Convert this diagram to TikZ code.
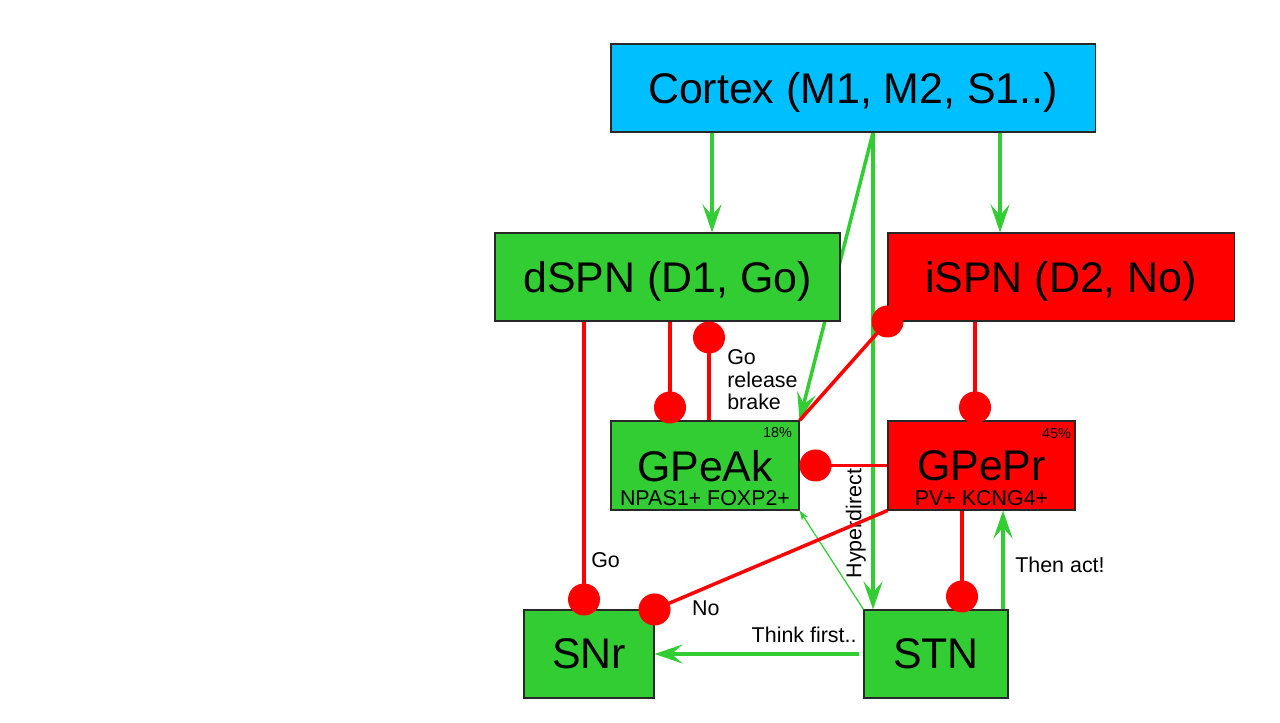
\documentclass[tikz,border=0pt]{standalone}
\usepackage{fontspec}
\setmainfont{Liberation Sans}
\usepackage{tikz}
\usetikzlibrary{arrows.meta, calc, backgrounds}
\definecolor{ctxblue}{RGB}{0,191,255}
\definecolor{gogreen}{RGB}{50,205,50}
\definecolor{nored}{RGB}{255,0,0}
\definecolor{rim}{RGB}{40,40,40}

\begin{document}
\begin{tikzpicture}[
box/.style={draw=rim, line width=0.3pt, rectangle, inner sep=0pt, text depth=0pt, font=\fontsize{12.2}{14}\selectfont},
exc/.style={gogreen, line width=1pt, -{Stealth[length=0.28cm, width=0.19cm, inset=0.11cm]}},
thinexc/.style={gogreen, line width=0.35pt, -{Stealth[length=0.1cm, width=0.07cm, inset=0.03cm]}},
inh/.style={nored, line width=1pt, -{Circle[length=0.32cm]}},
lbl/.style={text=black, font=\fontsize{6.1}{6.4}\selectfont, inner sep=1pt},
tag/.style={font=\fontsize{6.1}{7}\selectfont, inner sep=0pt},
pct/.style={font=\fontsize{4.1}{5}\selectfont, inner sep=0pt}
]
\useasboundingbox (0,0) rectangle (12.8,7.23);
\node[box, fill=ctxblue, minimum width=4.84cm, minimum height=0.88cm] (Cortex) at (8.53,6.35) {Cortex (M1, M2, S1..)};
\node[box, fill=gogreen, minimum width=3.45cm, minimum height=0.88cm] (dSPN) at (6.675,4.46) {dSPN (D1, Go)};
\node[box, fill=nored, minimum width=3.46cm, minimum height=0.88cm] (iSPN) at (10.61,4.46) {iSPN (D2, No)};
\node[box, fill=gogreen, minimum width=1.88cm, minimum height=0.89cm] (GPeAk) at (7.05,2.575) {GPeAk};
\node[box, fill=nored, minimum width=1.87cm, minimum height=0.89cm] (GPePr) at (9.815,2.575) {GPePr};
\node[box, fill=gogreen, minimum width=1.30cm, minimum height=0.88cm] (SNr) at (5.89,0.69) {SNr};
\node[box, fill=gogreen, minimum width=1.44cm, minimum height=0.88cm] (STN) at (9.36,0.69) {STN};
\node[tag, anchor=base] (GPeAkSub) at ($(GPeAk.south)+(0,0.05)$) {NPAS1+ FOXP2+};
\node[tag, anchor=base] (GPePrSub) at ($(GPePr.south)+(0,0.05)$) {PV+ KCNG4+};
\node[pct, anchor=base east] (GPeAkPct) at ($(GPeAk.north east)+(-0.07,-0.17)$) {18\%};
\node[pct, anchor=base east] (GPePrPct) at ($(GPePr.north east)+(-0.04,-0.18)$) {45\%};

\begin{scope}[on background layer]
\draw[exc] ([xshift=0.2cm]Cortex.south) -- (GPeAk.north east);
\end{scope}
\draw[exc] ([xshift=0.445cm]dSPN.north |- Cortex.south) -- ([xshift=0.445cm]dSPN.north);
\draw[exc] ([xshift=-0.61cm]iSPN.north |- Cortex.south) -- ([xshift=-0.61cm]iSPN.north);
\draw[exc] ([xshift=0.2cm]Cortex.south) -- ([xshift=0.2cm]Cortex.south |- STN.north) node[lbl, pos=0.82, rotate=90, anchor=south, yshift=0.02cm] {Hyperdirect};
\draw[exc] ([xshift=0.67cm]STN.north) -- ([xshift=0.67cm]STN.north |- GPePr.south) node[lbl, pos=0.45, right=0.07cm] {Then act!};
\draw[thinexc] (STN.north west) -- (GPeAk.south east);
\draw[exc] ([xshift=-0.04cm]STN.west) -- (SNr.east) node[lbl, pos=0.27, above=0.06cm] {Think first..};

\draw[inh, shorten >=-0.06cm] ([xshift=-0.05cm]SNr.north |- dSPN.south) -- ([xshift=-0.05cm]SNr.north) node[lbl, pos=0.83, right=0.02cm] {Go};
\draw[inh, shorten >=-0.03cm] ([xshift=-0.35cm]GPeAk.north |- dSPN.south) -- ([xshift=-0.35cm]GPeAk.north);
\draw[inh] ([xshift=0.04cm]GPeAk.north) -- ([xshift=0.04cm]GPeAk.north |- dSPN.south) node[lbl, pos=0.41, right=0.13cm, align=left] {Go\\release\\brake};
\draw[inh, shorten >=-0.16cm] (GPeAk.north east) -- (iSPN.south west);
\draw[inh, shorten >=-0.03cm] ([xshift=-0.065cm]GPePr.north |- iSPN.south) -- ([xshift=-0.065cm]GPePr.north);
\draw[inh] (GPePr.west) -- (GPeAk.east);
\draw[inh, shorten >=-0.16cm] (GPePr.south west) -- (SNr.north east) node[lbl, pos=0.78, below=0.08cm] {No};
\draw[inh, shorten >=-0.03cm] ([xshift=-0.195cm]GPePr.south) -- ([xshift=-0.195cm]GPePr.south |- STN.north);
\end{tikzpicture}
\end{document}
